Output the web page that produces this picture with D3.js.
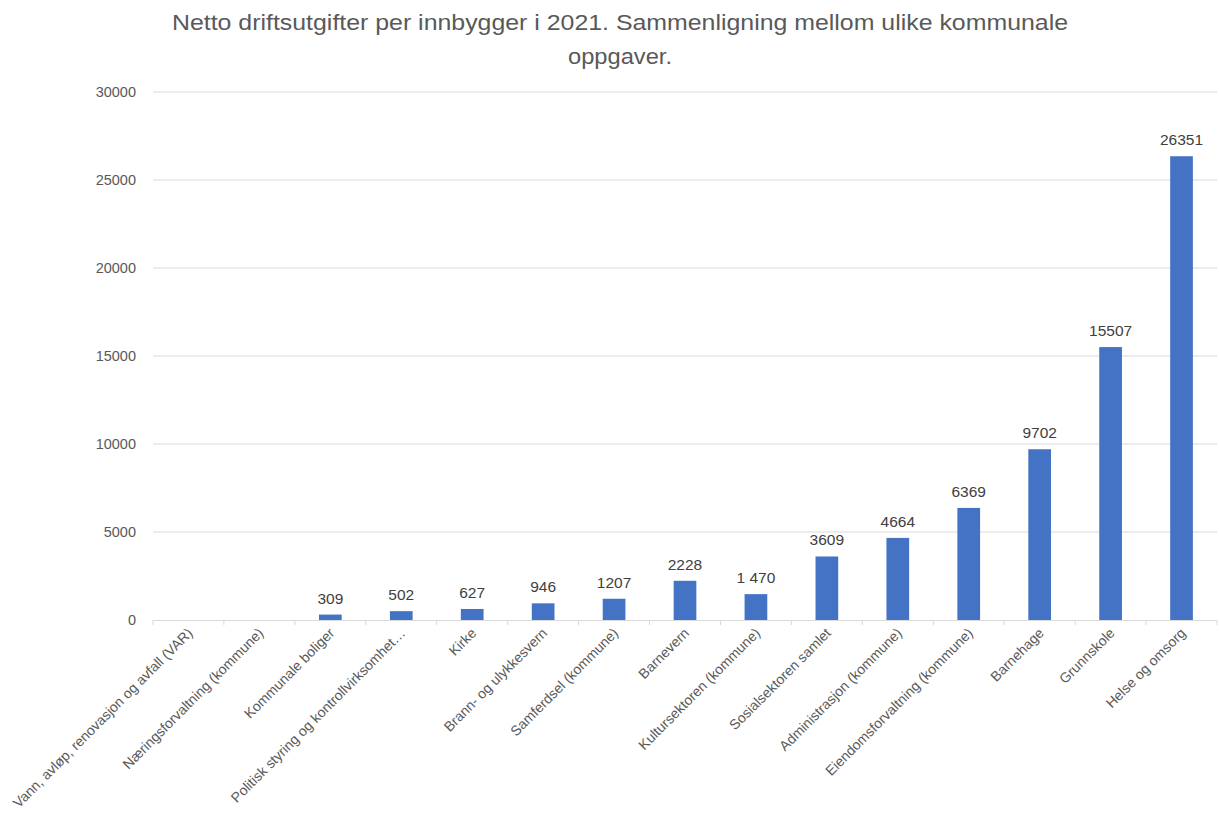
<!DOCTYPE html>
<html>
<head>
<meta charset="utf-8">
<script src="https://cdn.jsdelivr.net/npm/d3@7"></script>
<style>
  html, body { margin: 0; padding: 0; background: #ffffff; }
  svg { display: block; }
</style>
</head>
<body>
<svg id="chart" width="1219" height="814"></svg>
<script>
const categories = [
  "Vann, avløp, renovasjon og avfall (VAR)",
  "Næringsforvaltning (kommune)",
  "Kommunale boliger",
  "Politisk styring og kontrollvirksomhet…",
  "Kirke",
  "Brann- og ulykkesvern",
  "Samferdsel (kommune)",
  "Barnevern",
  "Kultursektoren (kommune)",
  "Sosialsektoren samlet",
  "Administrasjon (kommune)",
  "Eiendomsforvaltning (kommune)",
  "Barnehage",
  "Grunnskole",
  "Helse og omsorg"
];
const values = [null, null, 309, 502, 627, 946, 1207, 2228, 1470, 3609, 4664, 6369, 9702, 15507, 26351];
const valueLabels = ["", "", "309", "502", "627", "946", "1207", "2228", "1 470", "3609", "4664", "6369", "9702", "15507", "26351"];
const yTicks = [0, 5000, 10000, 15000, 20000, 25000, 30000];
const titleLines = ["Netto driftsutgifter per innbygger i 2021. Sammenligning mellom ulike kommunale", "oppgaver."];

const svg = d3.select("#chart");
const font = "'Liberation Sans', Arial, sans-serif";
const plotLeft = 153, plotRight = 1217, plotTop = 92, plotBottom = 620;

const x = d3.scaleBand().domain(categories).range([plotLeft, plotRight]).paddingInner(0.68).paddingOuter(0.34);
const y = d3.scaleLinear().domain([0, 30000]).range([plotBottom, plotTop]);

// Title
const tg = svg.append("g");
tg.selectAll("text").data(titleLines).join("text")
  .attr("x", 620).attr("y", (d, i) => 30 + i * 34)
  .attr("text-anchor", "middle")
  .attr("font-family", font).attr("font-size", 22)
  .attr("fill", "#595959")
  .each(function(d, i) {
    if (i === 0) d3.select(this).attr("textLength", 896).attr("lengthAdjust", "spacingAndGlyphs");
    else d3.select(this).attr("textLength", 104).attr("lengthAdjust", "spacingAndGlyphs");
  })
  .text(d => d);

// Gridlines
svg.append("g").selectAll("line").data(yTicks.filter(t => t > 0)).join("line")
  .attr("x1", plotLeft).attr("x2", plotRight)
  .attr("y1", d => y(d)).attr("y2", d => y(d))
  .attr("stroke", "#d9d9d9").attr("stroke-width", 1);

// Y axis labels
const yAxis = d3.axisLeft(y).tickValues(yTicks).tickSize(0).tickPadding(17).tickFormat(d3.format("d"));
const yg = svg.append("g").attr("transform", `translate(${plotLeft},0)`).call(yAxis);
yg.select(".domain").remove();
yg.selectAll("text").attr("font-family", font).attr("font-size", 14.5).attr("fill", "#595959");

const rows = categories.map((c, i) => ({c, v: values[i], l: valueLabels[i]})).filter(d => d.v != null);

// Bars
svg.append("g").selectAll("rect").data(rows).join("rect")
  .attr("x", d => x(d.c)).attr("width", x.bandwidth())
  .attr("y", d => y(d.v)).attr("height", d => y(0) - y(d.v))
  .attr("fill", "#4472c4");

// Value labels
svg.append("g").selectAll("text").data(rows).join("text")
  .attr("x", d => x(d.c) + x.bandwidth() / 2)
  .attr("y", d => y(d.v) - 11)
  .attr("text-anchor", "middle")
  .attr("font-family", font).attr("font-size", 15.5)
  .attr("fill", "#404040")
  .text(d => d.l);

// X axis
const xg = svg.append("g");
xg.append("line").attr("x1", plotLeft).attr("x2", plotRight).attr("y1", plotBottom + 0.5).attr("y2", plotBottom + 0.5)
  .attr("stroke", "#d9d9d9");
const tickXs = d3.range(categories.length + 1).map(i => plotLeft + i * (plotRight - plotLeft) / categories.length);
xg.selectAll("line.tick").data(tickXs).join("line").attr("class", "tick")
  .attr("x1", d => d).attr("x2", d => d).attr("y1", plotBottom).attr("y2", plotBottom + 5)
  .attr("stroke", "#d9d9d9");

xg.selectAll("text").data(categories).join("text")
  .attr("transform", d => `translate(${x(d) + x.bandwidth() / 2 + 5},${plotBottom + 14}) rotate(-45)`)
  .attr("text-anchor", "end")
  .attr("font-family", font).attr("font-size", 14)
  .attr("fill", "#595959")
  .text(d => d);
</script>
</body>
</html>
